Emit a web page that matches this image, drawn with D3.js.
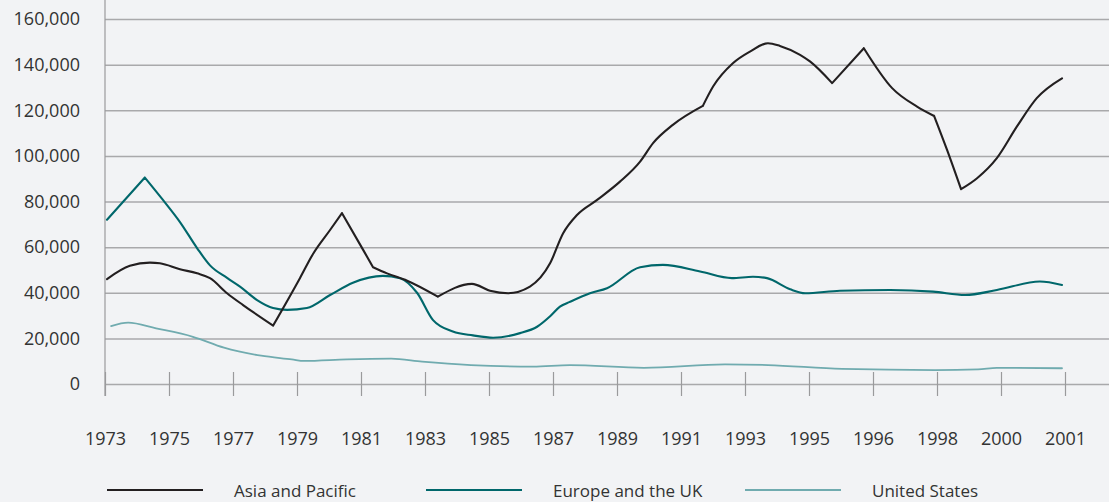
<!DOCTYPE html>
<html>
<head>
<meta charset="utf-8">
<script src="https://cdn.jsdelivr.net/npm/d3@7"></script>
<style>
  html, body { margin: 0; padding: 0; background: #f2f3f5; }
  svg { display: block; }
  text { font-family: "Open Sans", sans-serif; fill: #333; }
</style>
</head>
<body>
<script>
// tick labels on the x axis (evenly spaced in the original)
var tickLabels = ["1973","1975","1977","1979","1981","1983","1985","1987","1989","1991","1993","1995","1996","1998","2000","2001"];
var yTicks = [0, 20000, 40000, 60000, 80000, 100000, 120000, 140000, 160000];

// Asia and Pacific
var asiaYears = [1973, 1973.67, 1974.26, 1974.55, 1975.14, 1975.64, 1976.02, 1976.52, 1976.99, 1977.87,
  1978.66, 1979.04, 1979.54, 1979.89, 1980.51, 1980.80, 1981.21, 1981.80, 1982.70, 1983.70,
  1984.23, 1984.76, 1985.40, 1985.99, 1986.37, 1986.78, 1987.37, 1988.04, 1988.63, 1989.01,
  1989.59, 1990.47, 1990.77, 1991.35, 1991.85, 1992.38, 1992.73, 1993.32, 1993.61, 1994.26,
  1995.19, 1996.02, 1996.75, 1997.25, 1997.63, 1998.04, 1998.51, 1999.09, 1999.68, 2000.26, 2001];
var asiaValues = [46000, 51800, 53200, 52900, 50300, 48500, 46400, 39800, 34600, 25600,
  46500, 57000, 67500, 74900, 58800, 51200, 48500, 45300, 38300, 43900,
  40900, 39800, 42700, 52900, 66000, 74100, 80700, 88700, 97500, 105600,
  113600, 121900, 130400, 140600, 145700, 149400, 148200, 144300, 141400, 131900,
  147200, 129700, 121600, 117500, 102600, 85400, 90200, 99000, 112900, 125300, 134000];
// points where the line turns sharply (index into the arrays)
var asiaCorners = [9, 13, 15, 18, 31, 39, 40, 43, 45];

// Europe and the UK
var europeYears = [1973, 1974.11, 1974.64, 1975.14, 1975.64, 1976.02, 1976.52, 1976.90, 1977.40, 1977.87,
  1978.28, 1978.86, 1979.54, 1980.21, 1981.09, 1981.59, 1982.09, 1982.56, 1983.14, 1983.73,
  1984.32, 1985.11, 1985.61, 1986.00, 1986.28, 1986.57, 1987.16, 1987.66, 1988.63, 1989.30,
  1990.39, 1991.32, 1991.94, 1992.35, 1993.03, 1993.47, 1994.49, 1995.96, 1997.22, 1998.16,
  1999.09, 2000.35, 2001];
var europeValues = [72000, 90500, 80700, 71000, 59600, 52000, 46500, 42700, 36800, 33300,
  32500, 33300, 39000, 44400, 47400, 46400, 40000, 28000, 23000, 21300,
  20300, 22300, 25100, 29800, 33900, 36000, 39800, 42000, 51200, 52200,
  49300, 46400, 47000, 46400, 41500, 39800, 40900, 41200, 40500, 39000,
  41200, 44900, 43400];
var europeCorners = [1];

// United States
var usYears = [1973.12, 1973.62, 1974.44, 1975.52, 1976.43, 1977.52, 1978.42, 1978.78, 1980.04, 1981.33,
  1982.24, 1983.67, 1985.49, 1986.57, 1988.74, 1991.12, 1992.38, 1994.55, 1997.28, 1998.54,
  1999.09, 2001];
var usValues = [25400, 26900, 24400, 20700, 15900, 12400, 10800, 10100, 10800, 11100,
  9800, 8300, 7600, 8300, 7100, 8600, 8300, 6600, 6100, 6400,
  7100, 6900];
var usCorners = [];

var seriesNames = ["Asia and Pacific", "Europe and the UK", "United States"];
var seriesColors = ["#231f20", "#00676b", "#70abaf"];

const w = 1109;
const h = 502;

const svg = d3.select("body")
  .append("svg")
  .attr("width", w)
  .attr("height", h)

const x = d3.scaleLinear().domain([1973, 2001]).range([107, 1062]);
const xt = d3.scalePoint().domain(tickLabels).range([105, 1065]);
const y = d3.scaleLinear().domain([0, 160000]).range([384, 19]);

// horizontal gridlines + y labels
const yAxis = svg.append("g")
  .attr("transform", "translate(105,0)")
  .call(d3.axisLeft(y).tickValues(yTicks).tickSize(-(w - 105)).tickPadding(25).tickFormat(d3.format(",")))
yAxis.select(".domain").remove()
yAxis.selectAll(".tick line")
  .attr("stroke", "#a9a9ab")
  .attr("stroke-width", 1.5)
yAxis.selectAll(".tick text")
  .style("font-size", "18px")
  .attr("fill", "#333")

// vertical axis line
svg.append("line")
  .attr("x1", 105).attr("x2", 105)
  .attr("y1", 0).attr("y2", 396)
  .attr("stroke", "#9a9a9c")
  .attr("stroke-width", 1.2)

// x ticks crossing the zero line
const xAxis = svg.append("g")
  .attr("transform", "translate(0," + y(0) + ")")
  .call(d3.axisBottom(xt).tickSize(12).tickPadding(36))
xAxis.select(".domain").remove()
xAxis.selectAll(".tick line")
  .attr("y1", -12)
  .attr("y2", 12)
  .attr("stroke", "#9a9a9c")
  .attr("stroke-width", 1.2)
xAxis.selectAll(".tick text")
  .style("font-size", "18px")
  .attr("fill", "#333")

// smooth between corners, sharp at the corners
const line = d3.line()
  .curve(d3.curveMonotoneX)
  .x(d => x(d[0]))
  .y(d => y(d[1]))

function pathWithCorners(pts, corners) {
  var cuts = [0].concat(corners, [pts.length - 1]);
  return d3.pairs(cuts).map(p => line(pts.slice(p[0], p[1] + 1))).join("");
}

const series = [
  { pts: d3.zip(asiaYears, asiaValues), corners: asiaCorners },
  { pts: d3.zip(europeYears, europeValues), corners: europeCorners },
  { pts: d3.zip(usYears, usValues), corners: usCorners }
];

// draw US first so the darker lines sit on top
[2, 1, 0].forEach(i => {
  svg.append("path")
    .attr("fill", "none")
    .attr("stroke", seriesColors[i])
    .attr("stroke-width", i == 2 ? 1.8 : 2.1)
    .attr("stroke-linejoin", "round")
    .attr("stroke-linecap", "round")
    .attr("d", pathWithCorners(series[i].pts, series[i].corners))
})

// legend
const legX = [107, 426, 745];
const legend = svg.selectAll(".leg")
  .data(seriesNames)
  .enter()
  .append("g")
  .attr("class", "leg")
  .attr("transform", (d, i) => "translate(" + legX[i] + ",490)")

legend.append("line")
  .attr("x1", 0).attr("x2", 96)
  .attr("y1", 0).attr("y2", 0)
  .attr("stroke", (d, i) => seriesColors[i])
  .attr("stroke-width", (d, i) => i == 2 ? 1.8 : 2.2)

legend.append("text")
  .attr("x", 127)
  .attr("y", 7)
  .style("font-size", "17px")
  .text(d => d)
</script>
</body>
</html>
